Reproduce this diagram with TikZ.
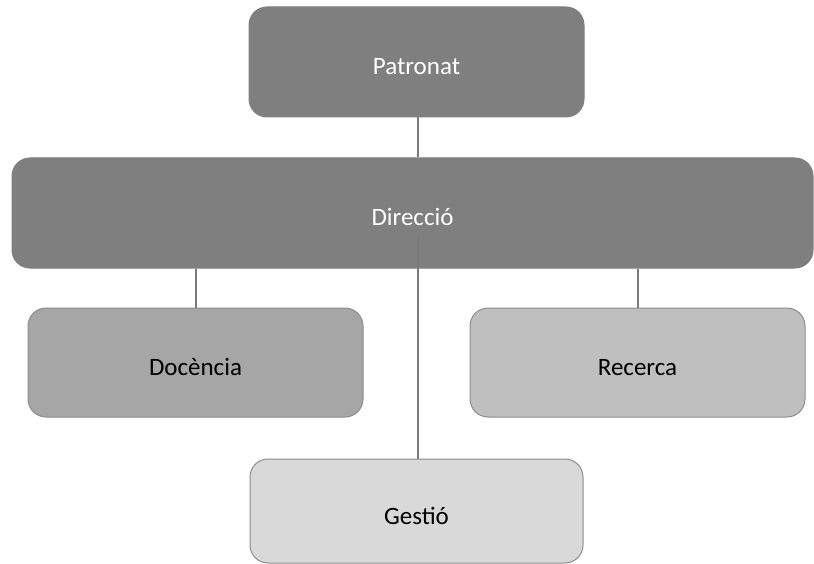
\documentclass[tikz,border=0pt]{standalone}
\usepackage{fontspec}
\setmainfont{Carlito}
\newcommand{\boxlbl}[1]{\raisebox{-13pt}[0pt][0pt]{#1}}
\begin{document}
\begin{tikzpicture}[x=1pt,y=-1pt,
  box/.style={rectangle,rounded corners=18pt,inner sep=0pt,line width=1pt,font=\fontsize{25}{30}\selectfont},
  darkbox/.style={box,fill=dark,draw=dark,text=white},
  link/.style={draw=linec,line width=2pt}]
\definecolor{dark}{HTML}{7F7F7F}
\definecolor{mid}{HTML}{A6A6A6}
\definecolor{light}{HTML}{BFBFBF}
\definecolor{pale}{HTML}{D9D9D9}
\definecolor{edge}{HTML}{8C8C8C}
\definecolor{linec}{HTML}{7A7A7A}
\useasboundingbox (0,0) rectangle (814,564);
\node[darkbox,minimum width=335pt,minimum height=110pt] (pat) at (416.5,62) {\boxlbl{Patronat}};
\node[darkbox,minimum width=801pt,minimum height=110pt] (dir) at (412.5,213) {\boxlbl{Direcció}};
\node[box,fill=mid,draw=edge,minimum width=335pt,minimum height=109pt] (doc) at (195.5,362.5) {\boxlbl{Docència}};
\node[box,fill=light,draw=edge,minimum width=335pt,minimum height=109pt] (rec) at (637.5,362.5) {\boxlbl{Recerca}};
\node[box,fill=pale,draw=edge,minimum width=333pt,minimum height=104pt] (ges) at (416.5,511) {\boxlbl{Gestió}};
\coordinate (gstart) at (418,237);
\draw[link] (pat.south -| gstart) -- (dir.north -| gstart);
\draw[link] (dir.south -| doc.north) -- (doc.north);
\draw[link] (dir.south -| rec.north) -- (rec.north);
\draw[link] (gstart) -- (ges.north -| gstart);
\end{tikzpicture}
\end{document}
